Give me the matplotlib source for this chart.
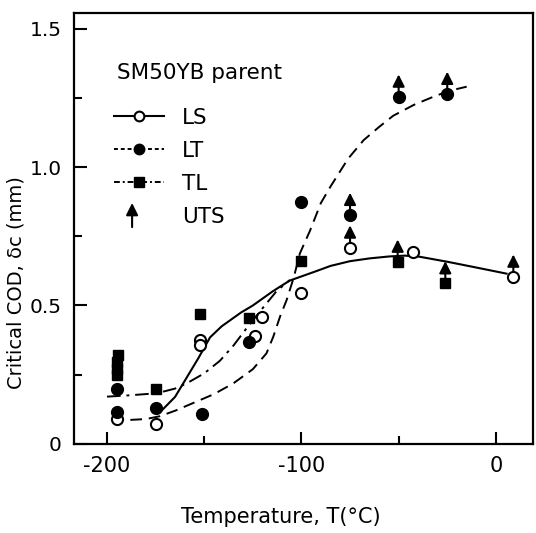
import matplotlib
matplotlib.use('Agg')
import matplotlib.pyplot as plt
from matplotlib.lines import Line2D
from matplotlib.legend_handler import HandlerBase
from matplotlib.patches import FancyArrowPatch

plt.rcParams['font.family'] = 'DejaVu Sans'
plt.rcParams['axes.unicode_minus'] = False

# Measured points, SM50YB parent plate
ls_T = [-195, -175, -152, -152, -124, -120.5, -100, -75, -42.5, 9]
ls_cod = [0.089, 0.072, 0.375, 0.357, 0.39, 0.46, 0.544, 0.709, 0.692, 0.604]

lt_T = [-195, -195, -175, -151, -127, -100, -75, -50, -25]
lt_cod = [0.20, 0.117, 0.13, 0.108, 0.37, 0.875, 0.827, 1.254, 1.264]

tl_T = [-194.5, -195, -195, -195, -175, -152, -127, -100, -50.5, -26]
tl_cod = [0.32, 0.295, 0.27, 0.25, 0.20, 0.47, 0.454, 0.66, 0.658, 0.58]

# points where fracture happened at UTS (lower bound arrows)
uts_T = [-75, -75, -50.5, -26, 9, -50, -25]
uts_cod = [0.827, 0.709, 0.658, 0.58, 0.604, 1.254, 1.264]

# hand drawn trend curves
ls_curve_T = [-172, -165, -159, -153, -147, -141, -137, -131, -125, -121, -115,
              -111, -106, -100, -92, -85, -75, -65, -55, -47, -40, -25, -10, 5.5]
ls_curve_cod = [0.12, 0.17, 0.24, 0.31, 0.385, 0.425, 0.445, 0.475, 0.50, 0.52, 0.55,
                0.568, 0.59, 0.605, 0.625, 0.643, 0.66, 0.67, 0.677, 0.68, 0.677,
                0.658, 0.637, 0.615]

lt_curve_T = [-188, -180, -173, -165, -156, -145, -135, -125, -118, -114.5, -111,
              -107.6, -104, -100.8, -95.6, -90, -85, -76, -68, -60, -52.8, -42,
              -32, -24, -15]
lt_curve_cod = [0.087, 0.09, 0.10, 0.12, 0.147, 0.18, 0.219, 0.27, 0.327, 0.387, 0.46,
                0.52, 0.60, 0.688, 0.77, 0.87, 0.93, 1.03, 1.097, 1.145, 1.185, 1.225,
                1.254, 1.275, 1.29]

tl_curve_T = [-200, -190, -174.5, -165, -159, -150, -142, -135, -128, -120, -113, -106]
tl_curve_cod = [0.171, 0.175, 0.183, 0.20, 0.219, 0.255, 0.30, 0.355, 0.42, 0.49,
                0.55, 0.592]


class ArrowHandler(HandlerBase):
    def create_artists(self, legend, orig_handle, xdescent, ydescent,
                       width, height, fontsize, trans):
        x = 0.36 * width - xdescent
        arr = FancyArrowPatch((x, -ydescent - 0.3 * height),
                              (x, height - ydescent + 0.3 * height),
                              arrowstyle='-|>,head_length=0.6,head_width=0.3',
                              mutation_scale=12, color='black', lw=1.5,
                              shrinkA=0, shrinkB=0, transform=trans)
        return [arr]


fig = plt.figure(figsize=(5.36, 5.33), dpi=100)
ax = fig.add_axes([0.138, 0.167, 0.856, 0.8086])

ax.plot(ls_curve_T, ls_curve_cod, color='black', lw=1.5, ls='-')
ax.plot(lt_curve_T, lt_curve_cod, color='black', lw=1.4, ls=(0, (6, 3.5)))
ax.plot(tl_curve_T, tl_curve_cod, color='black', lw=1.4, ls=(0, (7, 3, 1.5, 3)))

# arrows first so markers sit on top
for t, c in zip(uts_T, uts_cod):
    ax.annotate('', xy=(t, c), xytext=(0, 16), textcoords='offset points',
                arrowprops=dict(arrowstyle='<|-,head_length=0.6,head_width=0.3',
                                color='black', lw=1.5, shrinkA=0, shrinkB=3,
                                mutation_scale=12))

ax.plot(ls_T, ls_cod, 'o', ms=8, mfc='white', mec='black', mew=1.5, zorder=4)
ax.plot(lt_T, lt_cod, 'o', ms=8.5, mfc='black', mec='black', zorder=4)
ax.plot(tl_T, tl_cod, 's', ms=7, mfc='black', mec='black', zorder=4)

ax.set_xlim(-217, 19)
ax.set_ylim(0, 1.556)
ax.set_xticks([-200, -100, 0])
ax.set_xticks([-150, -50], minor=True)
ax.set_yticks([0, 0.5, 1.0, 1.5])
ax.set_yticklabels(['0', '0.5', '1.0', '1.5'])
ax.set_yticks([0.25, 0.75, 1.25], minor=True)
ax.tick_params(which='both', direction='in', width=1.5)
ax.tick_params(which='major', length=9)
ax.tick_params(which='minor', length=5.5)
ax.tick_params(axis='y', pad=9, labelsize=14.5)
ax.tick_params(axis='x', pad=9, labelsize=15)
for s in ax.spines.values():
    s.set_linewidth(1.6)

# legend
ax.text(0.093, 0.861, 'SM50YB parent', transform=ax.transAxes, fontsize=15.5,
        ha='left', va='center')
handles = [
    Line2D([], [], color='black', lw=1.5, ls='-', marker='o', ms=7,
           mfc='white', mec='black', mew=1.5),
    Line2D([], [], color='black', lw=1.4, ls=(0, (2, 1.5)), marker='o', ms=7.5,
           mfc='black', mec='black'),
    Line2D([], [], color='black', lw=1.4, ls=(0, (3, 1.5, 1, 1.5)), marker='s',
           ms=6.5, mfc='black', mec='black'),
    'uts',
]
labels = ['LS', 'LT', 'TL', 'UTS']
ax.legend(handles, labels, loc='upper left', bbox_to_anchor=(0.087, 0.78),
          frameon=False, fontsize=15.5, handlelength=2.35, handletextpad=0.8,
          labelspacing=0.6, borderpad=0, borderaxespad=0,
          handler_map={str: ArrowHandler()})

fig.text(281 / 536, 1 - 517 / 533, 'Temperature, T(°C)', fontsize=15,
         ha='center', va='center')
fig.text(16 / 536, 1 - 283 / 533, 'Critical COD, δc (mm)', fontsize=14,
         ha='center', va='center', rotation=90)

fig.savefig('out.png', dpi=100)
